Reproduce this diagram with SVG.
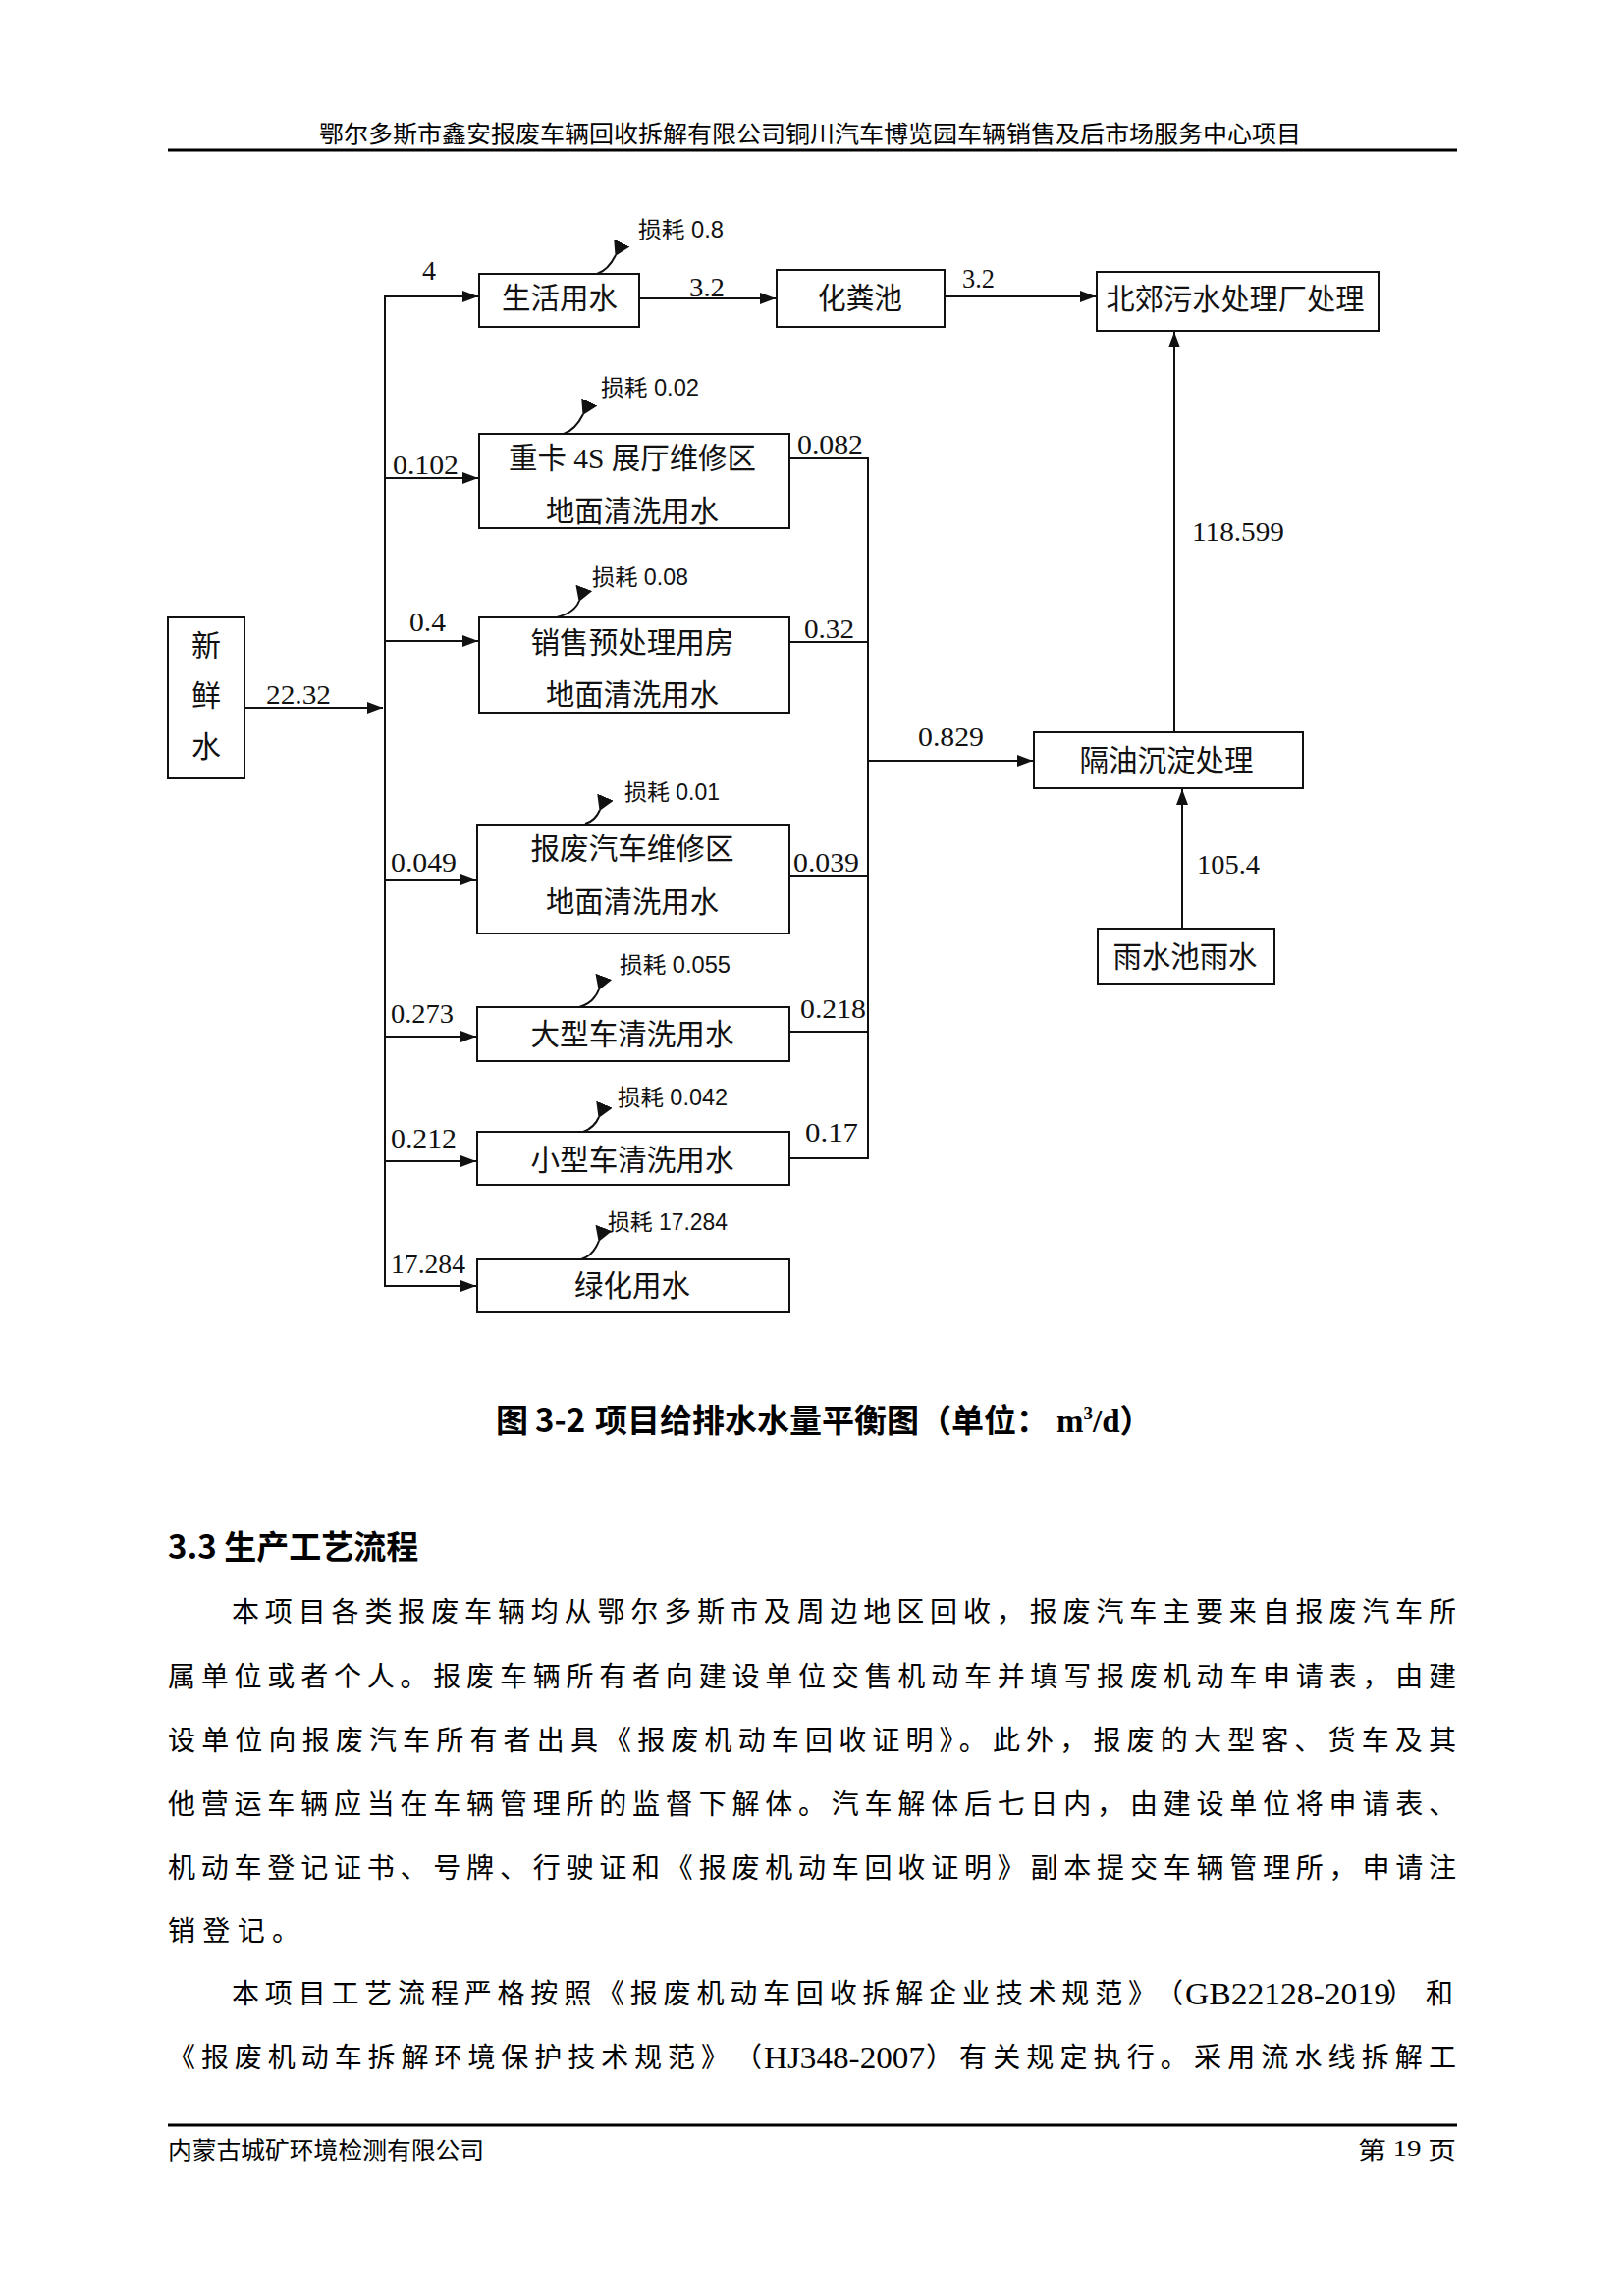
<svg xmlns="http://www.w3.org/2000/svg" width="1654" height="2339" viewBox="0 0 1654 2339">
<style>
.bg{fill:#fff}
.box{fill:#fff;stroke:#111;stroke-width:2}
.ln{stroke:#111;stroke-width:2;fill:none}
.arr{marker-end:url(#ah)}
.loss{marker-end:url(#lh)}
.bt{font-family:"Liberation Serif","Noto Sans CJK SC",serif;font-size:30px;text-anchor:middle;dominant-baseline:central;fill:#111}
.num{font-family:"Liberation Serif",serif;font-size:28px;fill:#111}
.ll{font-family:"Liberation Sans","Noto Sans CJK SC",sans-serif;font-size:23px;fill:#111}
.hd{font-family:"Noto Sans CJK SC",sans-serif;font-size:24px;dominant-baseline:central;fill:#000}
.body{font-family:"Liberation Serif","Noto Sans CJK SC",serif;font-size:28px;dominant-baseline:central;fill:#000}
.lat{font-family:"Liberation Serif",serif;font-size:31px}
.cap{font-family:"Noto Sans CJK SC",sans-serif;font-size:33px;font-weight:bold;fill:#000}
.sec{font-family:"Noto Sans CJK SC",sans-serif;font-size:33px;font-weight:bold;dominant-baseline:central;fill:#000}
.rule{stroke:#000;stroke-width:3}
</style>
<defs>
<marker id="ah" markerUnits="userSpaceOnUse" viewBox="0 0 16 12" markerWidth="16" markerHeight="12" refX="16" refY="6" orient="auto"><path d="M0,0 L16,6 L0,12 Z" fill="#111"/></marker>
<marker id="lh" markerUnits="userSpaceOnUse" viewBox="0 0 15 18" markerWidth="15" markerHeight="18" refX="1" refY="9" orient="auto"><path d="M0,9 L15,0 L15,18 Z" fill="#111"/></marker>
</defs>
<rect class="bg" x="0" y="0" width="1654" height="2339"/>

<g id="page-header">
<text class="hd" x="325" y="134" textLength="1000" lengthAdjust="spacingAndGlyphs">鄂尔多斯市鑫安报废车辆回收拆解有限公司铜川汽车博览园车辆销售及后市场服务中心项目</text>
<line class="rule" x1="171" y1="153" x2="1484" y2="153"/>
</g>

<g id="connectors">
<line class="ln arr" x1="249" y1="721" x2="390" y2="721"/>
<line class="ln" x1="392" y1="301" x2="392" y2="1311"/>
<line class="ln arr" x1="391" y1="302" x2="487" y2="302"/>
<line class="ln arr" x1="391" y1="487" x2="487" y2="487"/>
<line class="ln arr" x1="391" y1="653" x2="487" y2="653"/>
<line class="ln arr" x1="391" y1="896" x2="485" y2="896"/>
<line class="ln arr" x1="391" y1="1056" x2="485" y2="1056"/>
<line class="ln arr" x1="391" y1="1183" x2="485" y2="1183"/>
<line class="ln arr" x1="391" y1="1310" x2="485" y2="1310"/>
<line class="ln arr" x1="651" y1="304" x2="790" y2="304"/>
<line class="ln arr" x1="962" y1="302" x2="1116" y2="302"/>
<polyline class="ln" points="804,467 884,467 884,1180 804,1180"/>
<line class="ln" x1="804" y1="654" x2="884" y2="654"/>
<line class="ln" x1="804" y1="892" x2="884" y2="892"/>
<line class="ln" x1="804" y1="1051" x2="884" y2="1051"/>
<line class="ln arr" x1="884" y1="775" x2="1052" y2="775"/>
<line class="ln arr" x1="1196" y1="746" x2="1196" y2="338"/>
<line class="ln arr" x1="1204" y1="946" x2="1204" y2="804"/>
<path class="ln loss" d="M608,279 C617,276 623,268 627,260"/>
<path class="ln loss" d="M574,442 C583,439 590,430 594,422"/>
<path class="ln loss" d="M567,629 C578,626 587,620 590,612"/>
<path class="ln loss" d="M596,839 C604,837 608,832 611,825"/>
<path class="ln loss" d="M590,1026 C600,1023 607,1016 610,1008"/>
<path class="ln loss" d="M594,1153 C602,1150 607,1145 610,1138"/>
<path class="ln loss" d="M592,1283 C601,1280 607,1272 610,1264"/>
</g>

<g id="connector-labels">
<text class="num" x="430" y="285">4</text>
<text class="num" x="702" y="302" textLength="36" lengthAdjust="spacingAndGlyphs">3.2</text>
<text class="num" x="980" y="293" textLength="33" lengthAdjust="spacingAndGlyphs">3.2</text>
<text class="num" x="400" y="483" textLength="67" lengthAdjust="spacingAndGlyphs">0.102</text>
<text class="num" x="812" y="462" textLength="67" lengthAdjust="spacingAndGlyphs">0.082</text>
<text class="num" x="1214" y="551" textLength="94" lengthAdjust="spacingAndGlyphs">118.599</text>
<text class="num" x="417" y="643" textLength="37" lengthAdjust="spacingAndGlyphs">0.4</text>
<text class="num" x="271" y="717" textLength="66" lengthAdjust="spacingAndGlyphs">22.32</text>
<text class="num" x="819" y="650" textLength="51" lengthAdjust="spacingAndGlyphs">0.32</text>
<text class="num" x="935" y="760" textLength="67" lengthAdjust="spacingAndGlyphs">0.829</text>
<text class="num" x="398" y="888" textLength="67" lengthAdjust="spacingAndGlyphs">0.049</text>
<text class="num" x="808" y="888" textLength="67" lengthAdjust="spacingAndGlyphs">0.039</text>
<text class="num" x="1219" y="890" textLength="64" lengthAdjust="spacingAndGlyphs">105.4</text>
<text class="num" x="398" y="1042" textLength="64" lengthAdjust="spacingAndGlyphs">0.273</text>
<text class="num" x="815" y="1037" textLength="67" lengthAdjust="spacingAndGlyphs">0.218</text>
<text class="num" x="398" y="1169" textLength="67" lengthAdjust="spacingAndGlyphs">0.212</text>
<text class="num" x="820" y="1163" textLength="54" lengthAdjust="spacingAndGlyphs">0.17</text>
<text class="num" x="398" y="1297" textLength="76" lengthAdjust="spacingAndGlyphs">17.284</text>
<text class="ll" x="650" y="242" textLength="87" lengthAdjust="spacingAndGlyphs">损耗 0.8</text>
<text class="ll" x="612" y="403" textLength="100" lengthAdjust="spacingAndGlyphs">损耗 0.02</text>
<text class="ll" x="603" y="596" textLength="98" lengthAdjust="spacingAndGlyphs">损耗 0.08</text>
<text class="ll" x="636" y="815" textLength="97" lengthAdjust="spacingAndGlyphs">损耗 0.01</text>
<text class="ll" x="631" y="991" textLength="113" lengthAdjust="spacingAndGlyphs">损耗 0.055</text>
<text class="ll" x="629" y="1126" textLength="112" lengthAdjust="spacingAndGlyphs">损耗 0.042</text>
<text class="ll" x="619" y="1253" textLength="122" lengthAdjust="spacingAndGlyphs">损耗 17.284</text>
</g>

<g id="n-fresh">
<rect class="box" x="171" y="629" width="78" height="164"/>
<text class="bt" x="210" y="657">新</text>
<text class="bt" x="210" y="708">鲜</text>
<text class="bt" x="210" y="760">水</text>
</g>
<g id="n-domestic">
<rect class="box" x="488" y="279" width="163" height="54"/>
<text class="bt" x="570" y="303" textLength="118" lengthAdjust="spacingAndGlyphs">生活用水</text>
</g>
<g id="n-septic">
<rect class="box" x="791" y="275" width="171" height="58"/>
<text class="bt" x="876" y="303" textLength="86" lengthAdjust="spacingAndGlyphs">化粪池</text>
</g>
<g id="n-wwtp">
<rect class="box" x="1117" y="277" width="287" height="60"/>
<text class="bt" x="1258" y="304" textLength="263" lengthAdjust="spacingAndGlyphs">北郊污水处理厂处理</text>
</g>
<g id="n-truck4s">
<rect class="box" x="488" y="442" width="316" height="96"/>
<text class="bt" x="644" y="466" textLength="252" lengthAdjust="spacingAndGlyphs">重卡 4S 展厅维修区</text>
<text class="bt" x="644" y="520" textLength="176" lengthAdjust="spacingAndGlyphs">地面清洗用水</text>
</g>
<g id="n-sales">
<rect class="box" x="488" y="629" width="316" height="97"/>
<text class="bt" x="644" y="654" textLength="207" lengthAdjust="spacingAndGlyphs">销售预处理用房</text>
<text class="bt" x="644" y="707" textLength="176" lengthAdjust="spacingAndGlyphs">地面清洗用水</text>
</g>
<g id="n-scrap">
<rect class="box" x="486" y="840" width="318" height="111"/>
<text class="bt" x="644" y="864" textLength="207" lengthAdjust="spacingAndGlyphs">报废汽车维修区</text>
<text class="bt" x="644" y="918" textLength="176" lengthAdjust="spacingAndGlyphs">地面清洗用水</text>
</g>
<g id="n-large">
<rect class="box" x="486" y="1026" width="318" height="55"/>
<text class="bt" x="644" y="1053" textLength="207" lengthAdjust="spacingAndGlyphs">大型车清洗用水</text>
</g>
<g id="n-small">
<rect class="box" x="486" y="1153" width="318" height="54"/>
<text class="bt" x="644" y="1181" textLength="207" lengthAdjust="spacingAndGlyphs">小型车清洗用水</text>
</g>
<g id="n-green">
<rect class="box" x="486" y="1283" width="318" height="54"/>
<text class="bt" x="644" y="1309" textLength="118" lengthAdjust="spacingAndGlyphs">绿化用水</text>
</g>
<g id="n-oilsep">
<rect class="box" x="1053" y="746" width="274" height="57"/>
<text class="bt" x="1188" y="774" textLength="177" lengthAdjust="spacingAndGlyphs">隔油沉淀处理</text>
</g>
<g id="n-rain">
<rect class="box" x="1118" y="946" width="180" height="56"/>
<text class="bt" x="1207" y="974" textLength="147" lengthAdjust="spacingAndGlyphs">雨水池雨水</text>
</g>

<g id="caption">
<text class="cap" y="1459"><tspan x="505">图</tspan><tspan x="545">3-2</tspan><tspan x="606">项目给排水水量平衡图（单位：</tspan><tspan x="1076" font-family="Liberation Serif">m</tspan><tspan font-family="Liberation Serif" font-size="19" dy="-13">3</tspan><tspan font-family="Liberation Serif" dy="13">/d</tspan><tspan>）</tspan></text>
</g>

<g id="body-text">
<text class="sec" x="171" y="1574">3.3 生产工艺流程</text>
<text class="body" x="236" y="1642" textLength="1247" lengthAdjust="spacing">本项目各类报废车辆均从鄂尔多斯市及周边地区回收，报废汽车主要来自报废汽车所</text>
<text class="body" x="171" y="1708" textLength="1312" lengthAdjust="spacing">属单位或者个人。报废车辆所有者向建设单位交售机动车并填写报废机动车申请表，由建</text>
<text class="body" x="171" y="1773" textLength="1312" lengthAdjust="spacing">设单位向报废汽车所有者出具《报废机动车回收证明》。此外，报废的大型客、货车及其</text>
<text class="body" x="171" y="1838" textLength="1312" lengthAdjust="spacing">他营运车辆应当在车辆管理所的监督下解体。汽车解体后七日内，由建设单位将申请表、</text>
<text class="body" x="171" y="1903" textLength="1312" lengthAdjust="spacing">机动车登记证书、号牌、行驶证和《报废机动车回收证明》副本提交车辆管理所，申请注</text>
<text class="body" x="171" y="1967" textLength="134" lengthAdjust="spacing">销登记。</text>
<text class="body" y="2031"><tspan x="236" textLength="941" lengthAdjust="spacing">本项目工艺流程严格按照《报废机动车回收拆解企业技术规范》</tspan><tspan x="1177">（</tspan><tspan x="1207" class="lat" textLength="209" lengthAdjust="spacingAndGlyphs">GB22128-2019</tspan><tspan x="1412">）</tspan><tspan x="1452">和</tspan></text>
<text class="body" y="2096"><tspan x="171" textLength="571" lengthAdjust="spacing">《报废机动车拆解环境保护技术规范》</tspan><tspan x="748">（</tspan><tspan x="778" class="lat" textLength="164" lengthAdjust="spacingAndGlyphs">HJ348-2007</tspan><tspan x="943">）</tspan><tspan x="977" textLength="506" lengthAdjust="spacing">有关规定执行。采用流水线拆解工</tspan></text>
</g>

<g id="page-footer">
<line class="rule" x1="171" y1="2165" x2="1484" y2="2165"/>
<text class="hd" x="171" y="2188" textLength="322" lengthAdjust="spacingAndGlyphs">内蒙古城矿环境检测有限公司</text>
<text class="hd" x="1383" y="2188" textLength="100" lengthAdjust="spacingAndGlyphs">第 <tspan font-family="Liberation Serif">19</tspan> 页</text>
</g>
</svg>
